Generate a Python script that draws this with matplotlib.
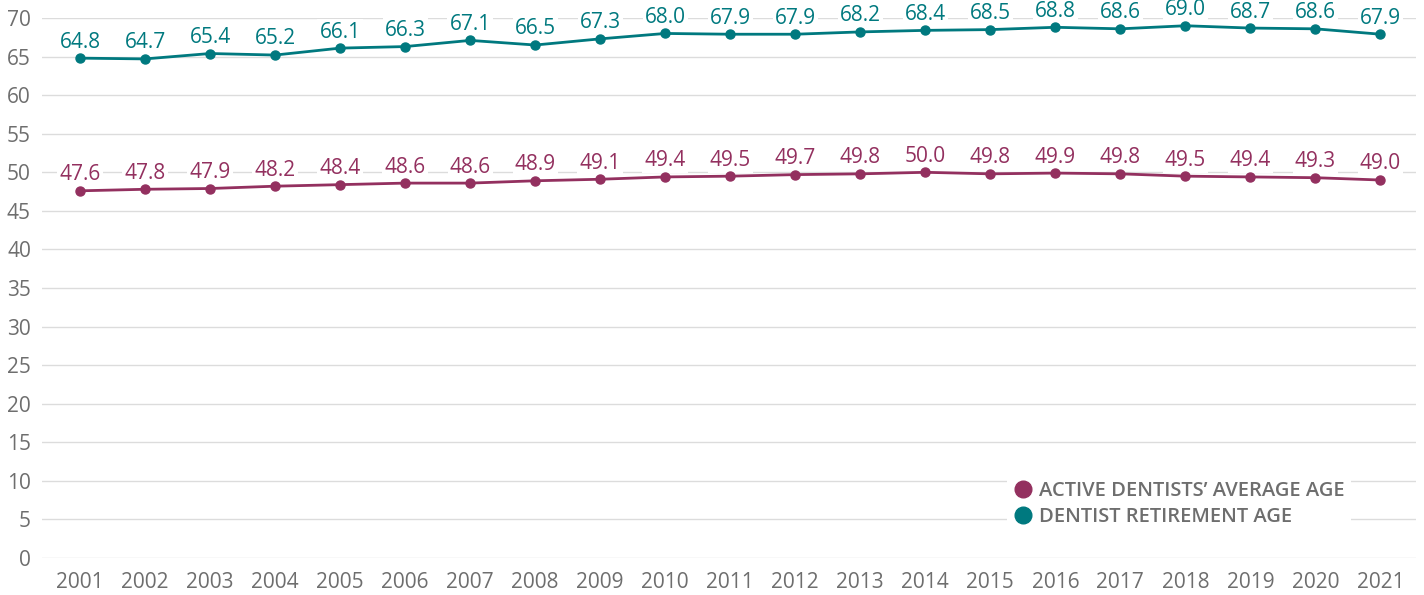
import matplotlib.pyplot as plt
from matplotlib.lines import Line2D

years = list(range(2001, 2022))
active_avg = [47.6, 47.8, 47.9, 48.2, 48.4, 48.6, 48.6, 48.9, 49.1, 49.4, 49.5,
              49.7, 49.8, 50.0, 49.8, 49.9, 49.8, 49.5, 49.4, 49.3, 49.0]
retire_age = [64.8, 64.7, 65.4, 65.2, 66.1, 66.3, 67.1, 66.5, 67.3, 68.0, 67.9,
              67.9, 68.2, 68.4, 68.5, 68.8, 68.6, 69.0, 68.7, 68.6, 67.9]
series_names = ["ACTIVE DENTISTS\u2019 AVERAGE AGE", "DENTIST RETIREMENT AGE"]

maroon = "#93305f"
teal = "#00797f"
grey = "#6e6e6e"

plt.rcParams['font.family'] = ['Open Sans', 'DejaVu Sans']

fig = plt.figure(figsize=(14.24, 5.95), dpi=100)
ax = fig.add_axes([0.0295, 0.0622, 0.965, 0.9075])

for vals, col in [(active_avg, maroon), (retire_age, teal)]:
    ax.plot(years, vals, color=col, lw=2, marker="o", ms=6.5, zorder=3)
    for x, v in zip(years, vals):
        ax.annotate(f"{v:.1f}", (x, v), xytext=(0, 4), textcoords="offset points",
                    ha="center", va="bottom", fontsize=15, color=col, zorder=2,
                    bbox=dict(boxstyle="square,pad=0.1", fc="white", ec="none"))

ax.set_xlim(2000.415, 2021.55)
ax.set_ylim(0, 70)
ax.set_yticks(range(0, 71, 5))
ax.set_xticks(years)
ax.grid(axis="y", color="#dcdcdc", lw=1)
ax.set_axisbelow(True)
for s in ax.spines.values():
    s.set_visible(False)
ax.tick_params(length=0, labelsize=15, labelcolor=grey)
ax.tick_params(axis="y", pad=8)
ax.tick_params(axis="x", pad=10)

handles = [Line2D([], [], ls="none", marker="o", ms=12, color=c) for c in (maroon, teal)]
leg = ax.legend(handles, series_names, loc="lower right", bbox_to_anchor=(0.96, 0.028),
                frameon=True, fancybox=False, edgecolor="none", framealpha=1,
                handletextpad=0.3, handlelength=1.0, labelspacing=0.3,
                borderpad=0.3, prop={"size": 14.5, "weight": "semibold"})
for t in leg.get_texts():
    t.set_color(grey)

fig.savefig("out.png", dpi=100)
